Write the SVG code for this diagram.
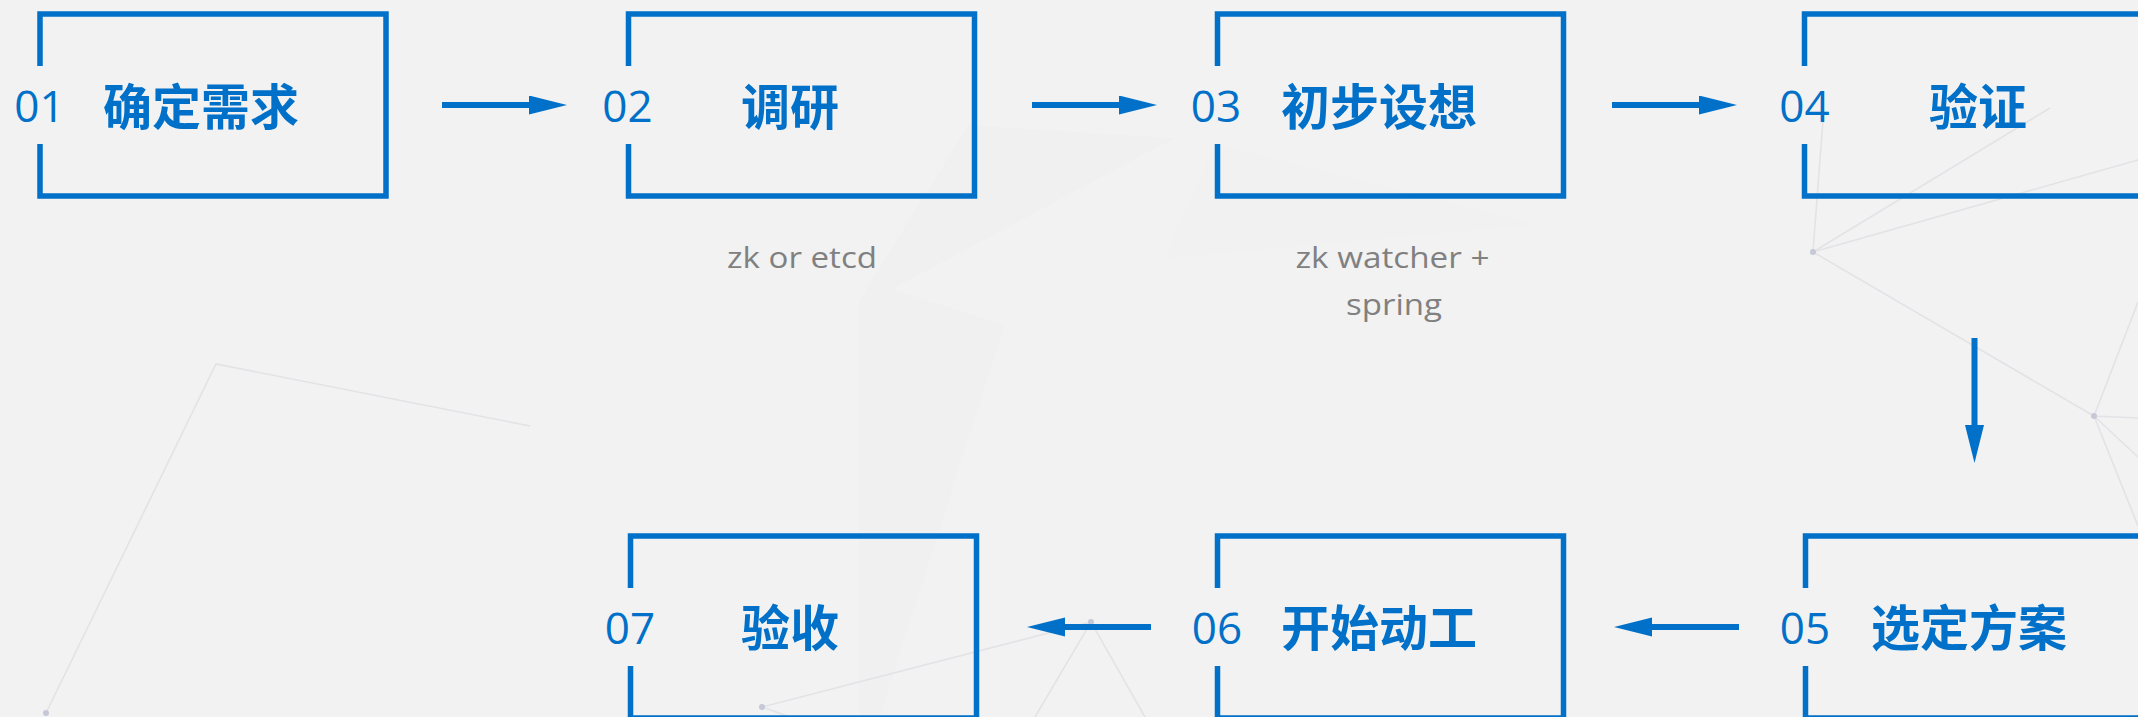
<svg xmlns="http://www.w3.org/2000/svg" width="2138" height="717" viewBox="0 0 2138 717">
  <defs>
    <style>
      .box { fill: none; stroke: #0070C8; stroke-width: 5.5; stroke-linejoin: miter; stroke-linecap: butt; }
      .num { font-family: "Open Sans", "Liberation Sans", sans-serif; font-weight: 400; font-size: 44px; fill: #0070C8; text-anchor: middle; }
      .title { font-family: "Noto Sans CJK SC", "Noto Sans CJK JP", sans-serif; font-weight: 700; font-size: 49px; fill: #0070C8; text-anchor: middle; }
      .sub { font-family: "Open Sans", "Liberation Sans", sans-serif; font-weight: 400; font-size: 29px; fill: #808080; text-anchor: middle; }
      .conn { stroke: #0070C8; stroke-width: 6; fill: none; marker-end: url(#ah); }
      .net { stroke: #e3e3e7; stroke-width: 1.6; fill: none; }
      .dot { fill: #c5c8d6; }
    </style>
    <marker id="ah" markerUnits="userSpaceOnUse" markerWidth="40" markerHeight="20" refX="8" refY="9.5" orient="auto">
      <path d="M0,0 L38,9.5 L0,19 Z" fill="#0070C8"/>
    </marker>
  </defs>

  <rect x="0" y="0" width="2138" height="717" fill="#f2f2f2"/>

  <g id="background">
    <polygon points="968,125 1175,138 893,289 1005,325 880,717 859,717 859,300" fill="#000" fill-opacity="0.006"/>
    <polygon points="1163,259 1215,143 1542,225" fill="#000" fill-opacity="0.005"/>
    <path class="net" d="M530,426 L216,364 L46,713"/>
    <path class="net" d="M790,717 L762,707 L1091,622 M1035,717 L1091,622 L1145,717"/>
    <path class="net" d="M1823,120 L1813,252 L2050,108 M1813,252 L2138,160 M1813,252 L2094,416 L2138,302 M2094,416 L2138,418 M2094,416 L2138,457 M2094,416 L2138,526"/>
    <circle class="dot" cx="46" cy="713" r="3"/>
    <circle class="dot" cx="762" cy="707" r="3"/>
    <circle class="dot" cx="1091" cy="622" r="3"/>
    <circle class="dot" cx="1813" cy="252" r="3"/>
    <circle class="dot" cx="2094" cy="416" r="3"/>
  </g>

  <g id="connectors">
    <line class="conn" x1="442" y1="105" x2="537" y2="105"/>
    <line class="conn" x1="1032" y1="105" x2="1127" y2="105"/>
    <line class="conn" x1="1612" y1="105" x2="1707" y2="105"/>
    <line class="conn" x1="1974.5" y1="338" x2="1974.5" y2="433"/>
    <line class="conn" x1="1739" y1="627" x2="1644" y2="627"/>
    <line class="conn" x1="1151" y1="627" x2="1057" y2="627"/>
  </g>

  <g id="node01">
    <path class="box" d="M40,66 V14 H386 V196 H40 V144"/>
    <text class="num" x="39.5" y="122">01</text>
    <text class="title" x="201" y="125">确定需求</text>
  </g>
  <g id="node02">
    <path class="box" d="M628.5,66 V14 H974.5 V196 H628.5 V144"/>
    <text class="num" x="627.5" y="122">02</text>
    <text class="title" x="790" y="125">调研</text>
    <text class="sub" x="802" y="268" textLength="150" lengthAdjust="spacingAndGlyphs">zk or etcd</text>
  </g>
  <g id="node03">
    <path class="box" d="M1217.5,66 V14 H1563.5 V196 H1217.5 V144"/>
    <text class="num" x="1216" y="122">03</text>
    <text class="title" x="1379" y="125">初步设想</text>
    <text class="sub" x="1392.5" y="268" textLength="194" lengthAdjust="spacingAndGlyphs">zk watcher +</text>
    <text class="sub" x="1394" y="315" textLength="96" lengthAdjust="spacingAndGlyphs">spring</text>
  </g>
  <g id="node04">
    <path class="box" d="M1804.5,66 V14 H2150.5 V196 H1804.5 V144"/>
    <text class="num" x="1804.5" y="122">04</text>
    <text class="title" x="1978" y="125">验证</text>
  </g>
  <g id="node05">
    <path class="box" d="M1805.5,588 V536 H2151.5 V718 H1805.5 V666"/>
    <text class="num" x="1805" y="644">05</text>
    <text class="title" x="1969" y="646">选定方案</text>
  </g>
  <g id="node06">
    <path class="box" d="M1217.5,588 V536 H1563.5 V718 H1217.5 V666"/>
    <text class="num" x="1217" y="644">06</text>
    <text class="title" x="1379" y="646">开始动工</text>
  </g>
  <g id="node07">
    <path class="box" d="M630.5,588 V536 H976.5 V718 H630.5 V666"/>
    <text class="num" x="630" y="644">07</text>
    <text class="title" x="790" y="646">验收</text>
  </g>
</svg>
